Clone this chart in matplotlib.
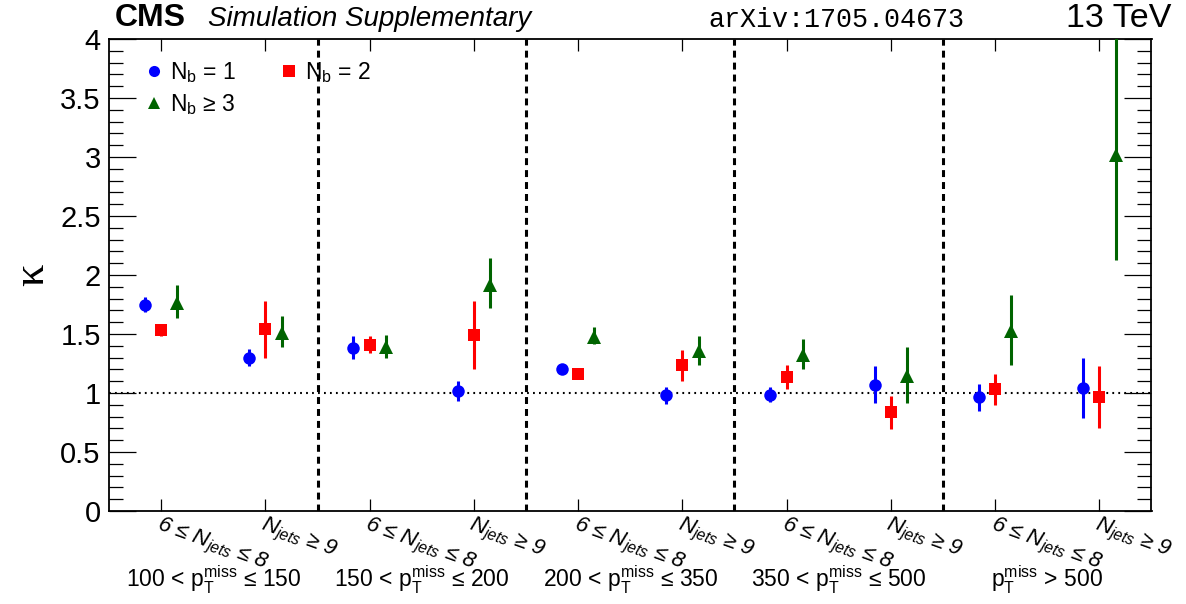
import matplotlib
matplotlib.use("Agg")
import matplotlib.pyplot as plt
from matplotlib.lines import Line2D
import numpy as np

# ---- data -------------------------------------------------------------
njets_labels = ["6 ≤ $N_{jets}$ ≤ 8", "$N_{jets}$ ≥ 9"] * 5
met_labels = [
    r"100 < $\mathrm{p}_{\mathrm{T}}^{\mathrm{miss}}$ ≤ 150",
    r"150 < $\mathrm{p}_{\mathrm{T}}^{\mathrm{miss}}$ ≤ 200",
    r"200 < $\mathrm{p}_{\mathrm{T}}^{\mathrm{miss}}$ ≤ 350",
    r"350 < $\mathrm{p}_{\mathrm{T}}^{\mathrm{miss}}$ ≤ 500",
    r"$\mathrm{p}_{\mathrm{T}}^{\mathrm{miss}}$ > 500",
]

kappa_nb1 = [1.75, 1.30, 1.385, 1.02, 1.20, 0.98, 0.985, 1.07, 0.965, 1.04]
err_nb1 = [0.065, 0.075, 0.095, 0.085, 0.02, 0.07, 0.065, 0.155, 0.115, 0.255]

kappa_nb2 = [1.535, 1.54, 1.41, 1.49, 1.165, 1.235, 1.135, 0.835, 1.03, 0.965]
err_nb2 = [0.05, 0.24, 0.075, 0.29, 0.02, 0.13, 0.10, 0.14, 0.135, 0.26]

kappa_nb3 = [1.765, 1.51, 1.39, 1.915, 1.472, 1.36, 1.322, 1.144, 1.523, 3.017]
err_nb3_lo = [0.13, 0.12, 0.09, 0.195, 0.06, 0.123, 0.12, 0.226, 0.286, 0.89]
err_nb3_hi = [0.15, 0.14, 0.10, 0.225, 0.085, 0.126, 0.133, 0.243, 0.307, 1.0]

# ---- style ------------------------------------------------------------
plt.rcParams["font.family"] = ["Liberation Sans", "DejaVu Sans"]
plt.rcParams["mathtext.fontset"] = "custom"
plt.rcParams["mathtext.rm"] = "Liberation Sans"
plt.rcParams["mathtext.it"] = "Liberation Sans:italic"
plt.rcParams["mathtext.bf"] = "Liberation Sans:bold"
plt.rcParams["lines.scale_dashes"] = False

W, H = 1186, 604
fig = plt.figure(figsize=(W / 100, H / 100), dpi=100)
x0, x1, y0, y1 = 109, 1151.5, 39, 511
ax = fig.add_axes([x0 / W, 1 - y1 / H, (x1 - x0) / W, (y1 - y0) / H])

x = np.arange(len(kappa_nb1))
off = 0.155
c_blue, c_red, c_green = "#0000ff", "#ff0000", "#006400"

ax.errorbar(x - off, kappa_nb1, yerr=err_nb1, fmt="o", color=c_blue,
            ms=9, elinewidth=2.2, capsize=0, mew=0, zorder=5)
ax.errorbar(x, kappa_nb2, yerr=err_nb2, fmt="s", color=c_red,
            ms=8, elinewidth=2.2, capsize=0, mew=0, zorder=5)
ax.errorbar(x + off, kappa_nb3, yerr=[err_nb3_lo, err_nb3_hi], fmt="^",
            color=c_green, ms=9.5, elinewidth=2.2, capsize=0, mew=0, zorder=5)

# reference line at kappa = 1
ax.axhline(1.0, color="black", lw=1.5, ls=(0, (1.3, 3.0)), zorder=1)

# boundaries between MET bins
for b in np.arange(1.5, len(x) - 1, 2):
    ax.axvline(b, color="black", lw=2.2, ls=(0, (5.0, 3.6)), zorder=2)

ax.set_xlim(-0.5, len(x) - 0.5)
ax.set_ylim(0, 4)

# y axis
ax.set_yticks(np.arange(0, 4.01, 0.5))
ax.set_yticklabels(["0", "0.5", "1", "1.5", "2", "2.5", "3", "3.5", "4"])
ax.set_yticks(np.arange(0, 4.01, 0.1), minor=True)
ax.tick_params(axis="y", which="major", direction="in", length=19.5, width=0.9,
               left=True, right=True, labelsize=21, pad=6)
ax.tick_params(axis="y", which="minor", direction="in", length=10, width=0.9,
               left=True, right=True)
ax.set_ylabel("κ", fontsize=32, family=["Liberation Serif", "DejaVu Serif"],
              labelpad=6)

# x axis
ax.set_xticks(x)
ax.set_xticklabels(njets_labels, rotation=-20, ha="left", va="top",
                   rotation_mode="anchor", fontsize=16, fontstyle="italic")
ax.tick_params(axis="x", which="major", direction="in", length=8.5, width=0.9,
               top=True, bottom=True, pad=2)
ax.tick_params(axis="x", which="minor", bottom=False, top=False)

for s in ax.spines.values():
    s.set_linewidth(1.3)

for i, lab in enumerate(met_labels):
    ax.text(2 * i + 0.5, 1 - (588 - y0) / (y1 - y0), lab,
            transform=ax.get_xaxis_transform(), ha="center", va="baseline",
            fontsize=16.5)

# legend
h1 = Line2D([], [], ls="none", marker="o", color=c_blue, ms=8, mew=0)
h2 = Line2D([], [], ls="none", marker="s", color=c_red, ms=8, mew=0)
h3 = Line2D([], [], ls="none", marker="^", color=c_green, ms=8, mew=0)
ax.legend([h1, h3, h2],
          [r"N$_{\mathrm{b}}$ = 1", r"N$_{\mathrm{b}}$ ≥ 3", r"N$_{\mathrm{b}}$ = 2"],
          ncol=2, loc="upper left", bbox_to_anchor=(0.037, 0.955), frameon=False,
          fontsize=16.5, handlelength=0.6, handletextpad=0.4, columnspacing=2.0,
          labelspacing=0.3, borderpad=0, borderaxespad=0)

# header
fig.text(115 / W, 1 - 26 / H, "CMS", fontsize=23, fontweight="bold", va="baseline")
fig.text(208 / W, 1 - 26 / H, "Simulation Supplementary", fontsize=20,
         fontstyle="italic", va="baseline")
fig.text(708 / W, 1 - 27 / H, "arXiv:1705.04673", fontsize=19.3,
         family=["Liberation Mono", "DejaVu Sans Mono"], va="baseline")
fig.text(1171 / W, 1 - 27 / H, "13 TeV", fontsize=24.5, ha="right", va="baseline")

fig.savefig("out.png", dpi=100)
